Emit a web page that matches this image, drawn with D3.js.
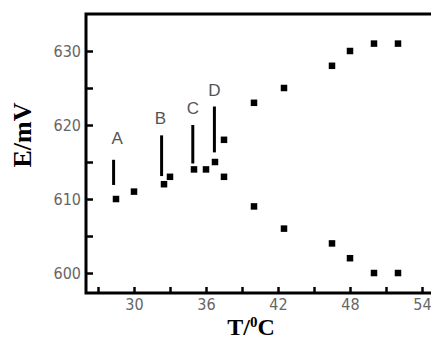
<!DOCTYPE html>
<html>
<head>
<meta charset="utf-8">
<script src="https://cdn.jsdelivr.net/npm/d3@7"></script>
<style>
  html, body { margin: 0; padding: 0; background: #fff; overflow: hidden; }
  svg { display: block; }
  .tick text { font-family: "Liberation Sans Narrow", "DejaVu Sans Condensed", sans-serif; font-size: 16px; fill: #666; }
</style>
</head>
<body>
<svg id="chart" width="431" height="341"></svg>
<script>
// Upper and lower branches (T in °C, E in mV)
const upperT = [28.5, 30, 32.5, 33, 35, 36, 36.75, 37.5, 40, 42.5, 46.5, 48, 50, 52];
const upperE = [610, 611, 612, 613, 614, 614, 615, 618, 623, 625, 628, 630, 631, 631];
const lowerT = [37.5, 40, 42.5, 46.5, 48, 50, 52];
const lowerE = [613, 609, 606, 604, 602, 600, 600];

// Transition markers A-D: vertical bars and their letters
const markLabels = ["A", "B", "C", "D"];
const markT = [28.3, 32.3, 34.9, 36.7];
const markLow = [611.9, 613.1, 614.8, 616.3];
const markHigh = [615.3, 618.6, 620, 622.5];
const labelT = [28.6, 32.2, 34.9, 36.7];
const labelE = [618.2, 621, 622.3, 624.7];

const xTicks = [27, 30, 33, 36, 39, 42, 45, 48, 51, 54];
const xLabels = [30, 36, 42, 48, 54];
const yTicks = [600, 605, 610, 615, 620, 625, 630];
const yLabels = [600, 610, 620, 630];

const $svg = d3.select("svg#chart");

const x = d3.scaleLinear().domain([26, 56]).range([86, 446]);
const y = d3.scaleLinear().domain([597.3, 635]).range([293, 14]);

// frame
$svg.append("rect")
  .attr("x", x(26)).attr("y", y(635))
  .attr("width", x(56) - x(26)).attr("height", y(597.3) - y(635))
  .attr("fill", "none").attr("stroke", "#000").attr("stroke-width", 3);

const xAxis = d3.axisBottom(x)
  .tickValues(xTicks)
  .tickSize(-6)
  .tickPadding(5)
  .tickFormat((d) => (xLabels.includes(d) ? d : ""));

const yAxis = d3.axisLeft(y)
  .tickValues(yTicks)
  .tickSize(-7)
  .tickPadding(5)
  .tickFormat((d) => (yLabels.includes(d) ? d : ""));

const $x = $svg.append("g").attr("transform", `translate(0,${y(597.3)})`).call(xAxis);
const $y = $svg.append("g").attr("transform", `translate(${x(26)},0)`).call(yAxis);

[$x, $y].forEach(($g) => {
  $g.select(".domain").remove();
  $g.selectAll(".tick line").attr("stroke", "#000").attr("stroke-width", 2.5);
});
$x.selectAll(".tick text").attr("dy", "0.78em");

// points
const pts = upperT.map((t, i) => [t, upperE[i]])
  .concat(lowerT.map((t, i) => [t, lowerE[i]]));
const sq = 6.5;
$svg.append("g").selectAll("rect")
  .data(pts)
  .join("rect")
  .attr("x", (d) => x(d[0]) - sq / 2)
  .attr("y", (d) => y(d[1]) - sq / 2)
  .attr("width", sq).attr("height", sq)
  .attr("fill", "#000");

// marker bars
$svg.append("g").selectAll("line")
  .data(markT)
  .join("line")
  .attr("x1", (d) => x(d)).attr("x2", (d) => x(d))
  .attr("y1", (d, i) => y(markLow[i])).attr("y2", (d, i) => y(markHigh[i]))
  .attr("stroke", "#000").attr("stroke-width", 3);

$svg.append("g").selectAll("text")
  .data(markLabels)
  .join("text")
  .attr("x", (d, i) => x(labelT[i]))
  .attr("y", (d, i) => y(labelE[i]))
  .attr("dy", "0.36em")
  .attr("text-anchor", "middle")
  .attr("font-family", "Liberation Sans, sans-serif")
  .attr("font-size", 17)
  .attr("fill", "#555")
  .text((d) => d);

// axis titles
$svg.append("text")
  .attr("transform", `translate(31,135) rotate(-90)`)
  .attr("text-anchor", "middle")
  .attr("font-family", "Liberation Serif, serif")
  .attr("font-weight", "bold")
  .attr("font-size", 26)
  .text("E/mV");

const $xt = $svg.append("text")
  .attr("x", 251).attr("y", 335)
  .attr("text-anchor", "middle")
  .attr("font-family", "Liberation Serif, serif")
  .attr("font-weight", "bold")
  .attr("font-size", 24);
$xt.append("tspan").text("T/");
$xt.append("tspan").attr("font-size", 15).attr("dy", -8).text("0");
$xt.append("tspan").attr("dy", 8).text("C");
</script>
</body>
</html>
